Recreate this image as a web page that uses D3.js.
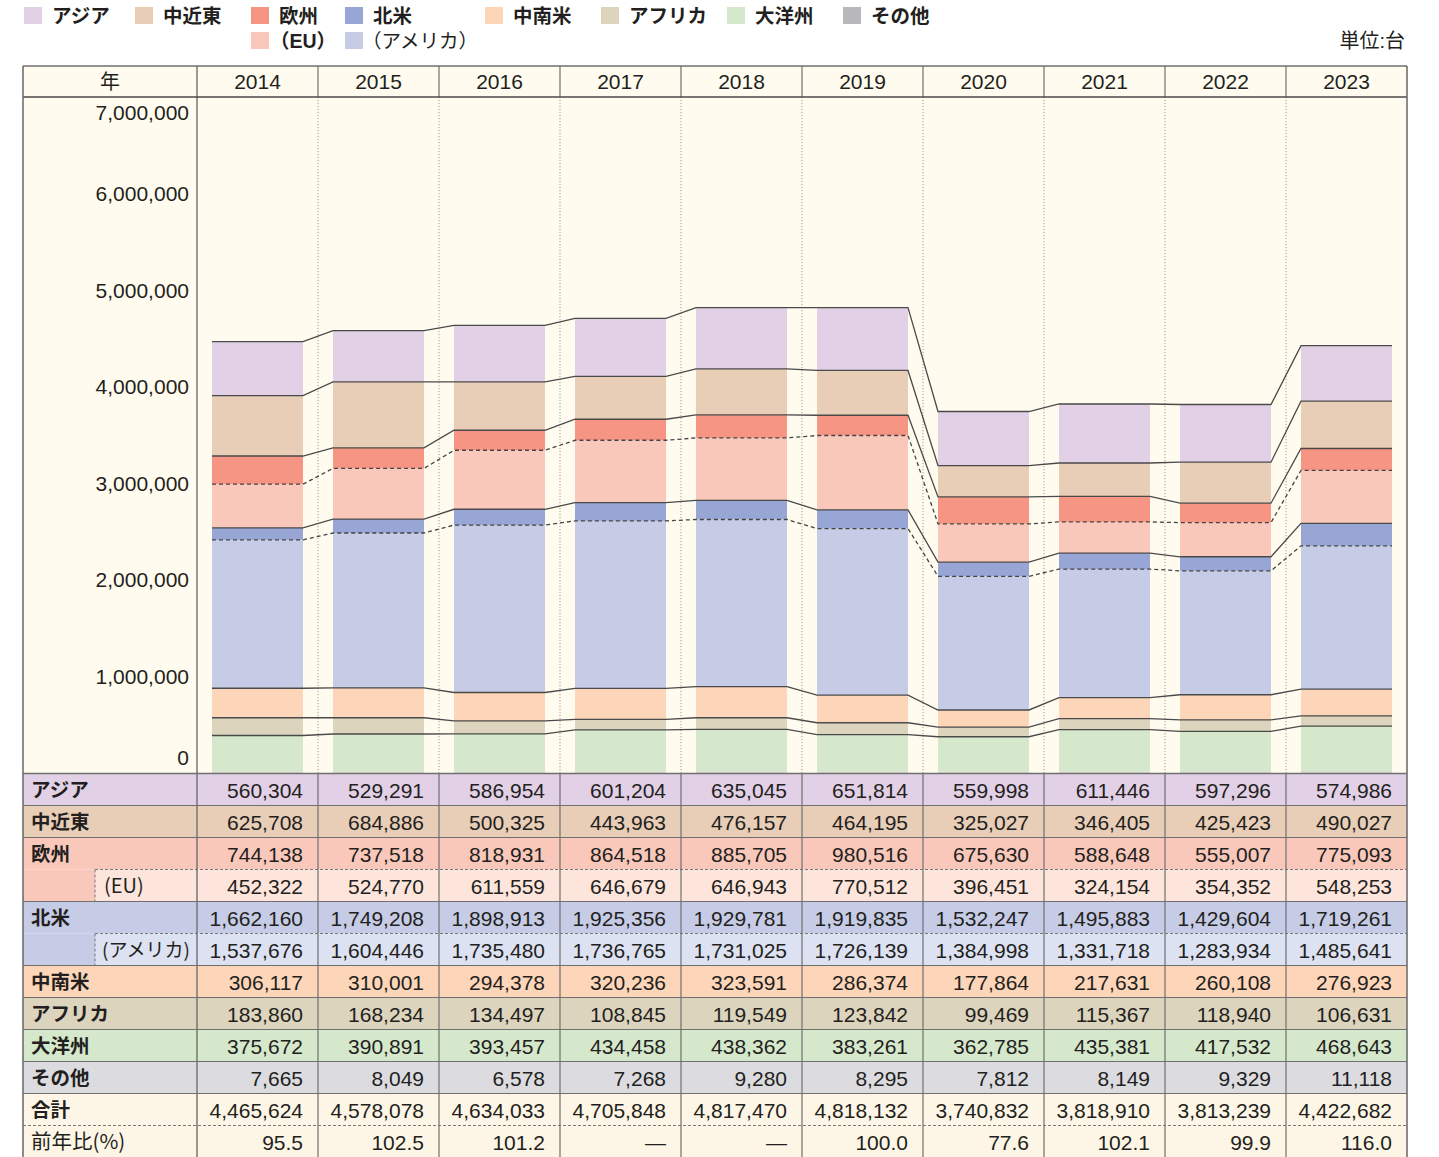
<!DOCTYPE html>
<html><head><meta charset="utf-8">
<script src="https://cdn.jsdelivr.net/npm/d3@7"></script>
<style>
html,body{margin:0;padding:0;background:#fff;}
svg{display:block;font-family:"Liberation Sans",Arial,"Noto Sans CJK JP",sans-serif;}
</style></head>
<body>
<svg id="c" width="1439" height="1157"></svg>
<script>
const years = [2014,2015,2016,2017,2018,2019,2020,2021,2022,2023];
const asia = [560304,529291,586954,601204,635045,651814,559998,611446,597296,574986];
const middleEast = [625708,684886,500325,443963,476157,464195,325027,346405,425423,490027];
const europe = [744138,737518,818931,864518,885705,980516,675630,588648,555007,775093];
const eu = [452322,524770,611559,646679,646943,770512,396451,324154,354352,548253];
const northAmerica = [1662160,1749208,1898913,1925356,1929781,1919835,1532247,1495883,1429604,1719261];
const usa = [1537676,1604446,1735480,1736765,1731025,1726139,1384998,1331718,1283934,1485641];
const latinAmerica = [306117,310001,294378,320236,323591,286374,177864,217631,260108,276923];
const africa = [183860,168234,134497,108845,119549,123842,99469,115367,118940,106631];
const oceania = [375672,390891,393457,434458,438362,383261,362785,435381,417532,468643];
const others = [7665,8049,6578,7268,9280,8295,7812,8149,9329,11118];
const totals = [4465624,4578078,4634033,4705848,4817470,4818132,3740832,3818910,3813239,4422682];
const yoy = ["95.5","102.5","101.2","—","—","100.0","77.6","102.1","99.9","116.0"];
const yTicks = [0,1000000,2000000,3000000,4000000,5000000,6000000,7000000];

const C = {
  asia:"#e2d0e6", me:"#e8cdb7", nonEU:"#f69583", eu:"#fac8bb", nonUS:"#97a6d4", us:"#c6cce6",
  latam:"#fdd5b8", africa:"#dcd4bd", oceania:"#d5e8cb", others:"#b9b9bd"
};
const CJK = "\"Noto Sans CJK JP\",sans-serif";

const svg = d3.select("#c");
const L = 23, R = 1407, LW = 197, headTop = 66, headBot = 97, plotBot = 773.5;
const rowH = 32;
const FONT_NUM = "21px";

// scales
const xCol = d3.scaleBand().domain(years).range([LW, R]).padding(0);
const xBar = d3.scaleBand().domain(years).range([LW, R]).paddingInner(30/121).paddingOuter(15/121);
const y = d3.scaleLinear().domain([0, 7000000]).range([772.5, 97]);

// background
svg.append("rect").attr("x",L).attr("y",headTop).attr("width",R-L).attr("height",plotBot-headTop).attr("fill","#fffcef");

// legend
const legendItems = [
  {t:"アジア", c:C.asia, x:24, y:7, w:"bold"},
  {t:"中近東", c:C.me, x:135, y:7, w:"bold"},
  {t:"欧州", c:C.nonEU, x:251, y:7, w:"bold"},
  {t:"北米", c:C.nonUS, x:345, y:7, w:"bold"},
  {t:"中南米", c:C.latam, x:485, y:7, w:"bold"},
  {t:"アフリカ", c:C.africa, x:601, y:7, w:"bold"},
  {t:"大洋州", c:C.oceania, x:727, y:7, w:"bold"},
  {t:"その他", c:C.others, x:843, y:7, w:"bold"},
  {t:"（EU）", c:C.eu, x:251, y:32, w:"bold", tx:270},
  {t:"（アメリカ）", c:C.us, x:345, y:32, w:"normal", tx:362}
];
const lg = svg.append("g");
legendItems.forEach(d=>{
  lg.append("rect").attr("x",d.x).attr("y",d.y).attr("width",18).attr("height",17).attr("fill",d.c);
  lg.append("text").attr("x",d.tx!==undefined?d.tx:d.x+28).attr("y",d.y+15.5)
    .attr("font-size","19.5px").attr("font-weight",d.w).attr("fill","#231f20").text(d.t);
});
svg.append("text").attr("x",1405).attr("y",48).attr("text-anchor","end").attr("font-size","20px").attr("fill","#231f20").text("単位:台");

// header
svg.append("text").attr("x",(L+LW)/2).attr("y",89).attr("text-anchor","middle").attr("font-size","20px").attr("fill","#231f20").text("年");
years.forEach(yr=>{
  svg.append("text").attr("x",xCol(yr)+xCol.bandwidth()/2).attr("y",89).attr("text-anchor","middle")
    .attr("font-size","21px").attr("fill","#231f20").text(yr);
});

// stacked data
const rows = years.map((yr,i)=>({
  year:yr, others:others[i], oceania:oceania[i], africa:africa[i], latam:latinAmerica[i],
  us:usa[i], nonUS:northAmerica[i]-usa[i], eu:eu[i], nonEU:europe[i]-eu[i], me:middleEast[i], asia:asia[i]
}));
const keys = ["others","oceania","africa","latam","us","nonUS","eu","nonEU","me","asia"];
const series = d3.stack().keys(keys)(rows);

// vertical dotted separators in plot area
years.slice(1).forEach(yr=>{
  svg.append("line").attr("x1",xCol(yr)).attr("x2",xCol(yr)).attr("y1",headBot).attr("y2",plotBot)
    .attr("stroke","#9a9a9a").attr("stroke-width",1).attr("stroke-dasharray","1.2,1.8");
});

// bars
const gb = svg.append("g");
series.forEach(s=>{
  gb.selectAll(null).data(s).enter().append("rect")
    .attr("x",d=>xBar(d.data.year)).attr("width",xBar.bandwidth())
    .attr("y",d=>y(d[1])).attr("height",d=>Math.max(0,y(d[0])-y(d[1])))
    .attr("fill",C[s.key]);
});

// connector lines
const lineKeys = {oceania:"solid", africa:"solid", latam:"solid", us:"dash", nonUS:"solid", eu:"dash", nonEU:"solid", me:"solid", asia:"solid"};
const lineGen = d3.line().x(d=>d[0]).y(d=>d[1]);
series.forEach(s=>{
  const st = lineKeys[s.key];
  if(!st) return;
  const pts = [];
  s.forEach(d=>{
    const x0 = xBar(d.data.year), x1 = x0 + xBar.bandwidth();
    pts.push([x0, y(d[1])]); pts.push([x1, y(d[1])]);
  });
  svg.append("path").attr("d",lineGen(pts)).attr("fill","none")
    .attr("stroke", st==="dash" ? "#444" : "#4a4a4a").attr("stroke-width",1.3)
    .attr("stroke-dasharray", st==="dash" ? "4,3" : null);
});

// y axis labels
yTicks.forEach(v=>{
  const yy = Math.min(Math.max(y(v), 112), 757);
  svg.append("text").attr("x",189).attr("y",yy+7.5).attr("text-anchor","end")
    .attr("font-size",FONT_NUM).attr("fill","#231f20").text(d3.format(",")(v));
});

// table
const tableTop = plotBot;
const tRows = [
  {label:"アジア", vals:asia, bg:C.asia, bold:true},
  {label:"中近東", vals:middleEast, bg:C.me, bold:true},
  {label:"欧州", vals:europe, bg:"#f9c8ba", bold:true, group:true},
  {label:"(EU)", vals:eu, bg:"#fde5dc", sub:true, parentBg:"#f9c8ba", lx:104, fs:"20px"},
  {label:"北米", vals:northAmerica, bg:"#c6cce6", bold:true, group:true},
  {label:"(アメリカ)", vals:usa, bg:"#dde2f2", sub:true, parentBg:"#c6cce6", lx:102, fs:"19px"},
  {label:"中南米", vals:latinAmerica, bg:C.latam, bold:true},
  {label:"アフリカ", vals:africa, bg:C.africa, bold:true},
  {label:"大洋州", vals:oceania, bg:C.oceania, bold:true},
  {label:"その他", vals:others, bg:"#dcdce0", bold:true},
  {label:"合計", vals:totals, bg:"#fdf6e6", bold:true},
  {label:"前年比(%)", vals:yoy, bg:"#fdf6e6", bold:false, text:true, fs:"20.5px"}
];
const gt = svg.append("g");
const subX = 95;
tRows.forEach((r,i)=>{
  const ry = tableTop + i*rowH;
  if(r.sub){
    gt.append("rect").attr("x",L).attr("y",ry).attr("width",subX-L).attr("height",rowH).attr("fill",r.parentBg);
    gt.append("rect").attr("x",subX).attr("y",ry).attr("width",R-subX).attr("height",rowH).attr("fill",r.bg);
  } else {
    gt.append("rect").attr("x",L).attr("y",ry).attr("width",R-L).attr("height",rowH).attr("fill",r.bg);
  }
  const t = gt.append("text").attr("x", r.lx || 31).attr("y",ry+rowH/2+7.5)
    .attr("font-size", r.fs || "19.5px").attr("font-weight",r.bold?"bold":"normal").attr("fill","#231f20").text(r.label);
  if(r.sub || r.text) t.style("font-family", CJK);
  r.vals.forEach((v,j)=>{
    gt.append("text").attr("x",xCol(years[j])+xCol.bandwidth()-15).attr("y",ry+rowH/2+8)
      .attr("text-anchor","end").attr("font-size",FONT_NUM).attr("fill","#231f20")
      .text(r.text ? v : d3.format(",")(v));
  });
});
// row separators
tRows.forEach((r,i)=>{
  if(i===0) return;
  const ry = tableTop + i*rowH;
  if(r.sub){
    gt.append("line").attr("x1",subX).attr("x2",R).attr("y1",ry).attr("y2",ry)
      .attr("stroke","#777").attr("stroke-width",1).attr("stroke-dasharray","3,2");
    gt.append("line").attr("x1",subX).attr("x2",subX).attr("y1",ry).attr("y2",ry+rowH)
      .attr("stroke","#777").attr("stroke-width",1).attr("stroke-dasharray","3,2");
  } else if(r.text){
    gt.append("line").attr("x1",L).attr("x2",R).attr("y1",ry).attr("y2",ry)
      .attr("stroke","#777").attr("stroke-width",1).attr("stroke-dasharray","3,2");
  } else {
    gt.append("line").attr("x1",L).attr("x2",R).attr("y1",ry).attr("y2",ry)
      .attr("stroke","#6f6f6f").attr("stroke-width",1.2);
  }
});

// vertical solid lines: header and table
years.slice(1).forEach(yr=>{
  svg.append("line").attr("x1",xCol(yr)).attr("x2",xCol(yr)).attr("y1",headTop).attr("y2",headBot).attr("stroke","#6f6f6f").attr("stroke-width",1.2);
  svg.append("line").attr("x1",xCol(yr)).attr("x2",xCol(yr)).attr("y1",plotBot).attr("y2",1157).attr("stroke","#6f6f6f").attr("stroke-width",1.2);
});
// label column right border
svg.append("line").attr("x1",LW).attr("x2",LW).attr("y1",headTop).attr("y2",1157).attr("stroke","#6f6f6f").attr("stroke-width",1.4);
// header lines
svg.append("line").attr("x1",L).attr("x2",R).attr("y1",headTop).attr("y2",headTop).attr("stroke","#6f6f6f").attr("stroke-width",1.4);
svg.append("line").attr("x1",L).attr("x2",R).attr("y1",headBot).attr("y2",headBot).attr("stroke","#4a4a4a").attr("stroke-width",1.4);
svg.append("line").attr("x1",L).attr("x2",R).attr("y1",plotBot).attr("y2",plotBot).attr("stroke","#6f6f6f").attr("stroke-width",1.4);
// outer borders
svg.append("line").attr("x1",L).attr("x2",L).attr("y1",headTop).attr("y2",1157).attr("stroke","#6f6f6f").attr("stroke-width",1.6);
svg.append("line").attr("x1",R).attr("x2",R).attr("y1",headTop).attr("y2",1157).attr("stroke","#6f6f6f").attr("stroke-width",1.6);
</script>
</body></html>
